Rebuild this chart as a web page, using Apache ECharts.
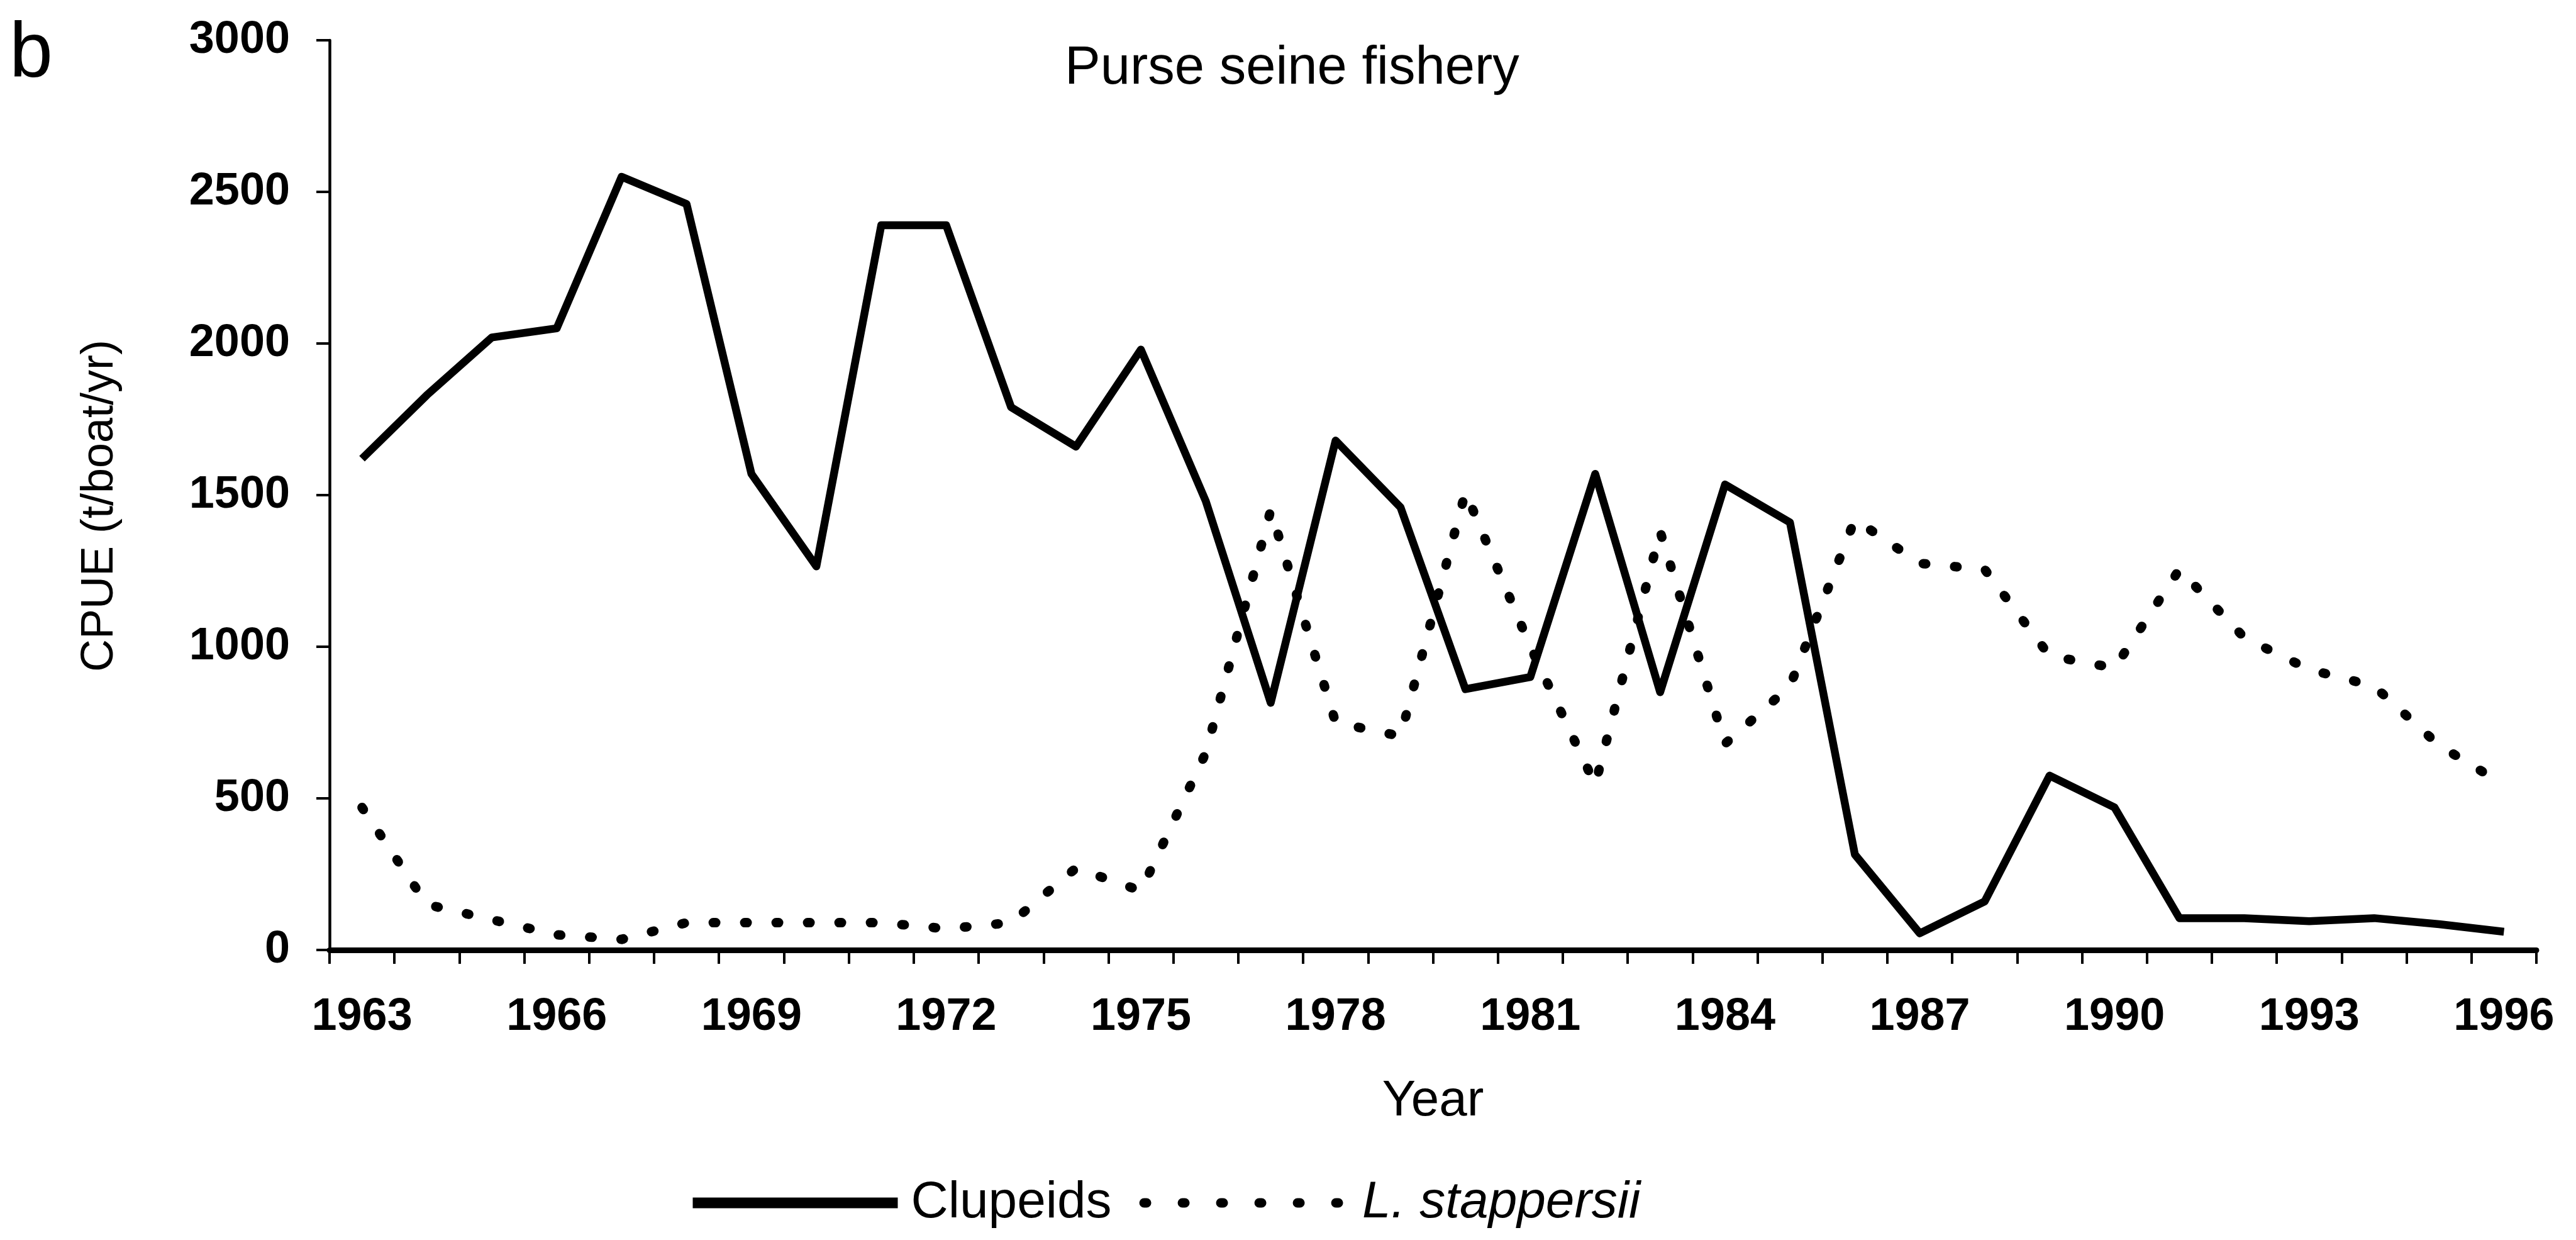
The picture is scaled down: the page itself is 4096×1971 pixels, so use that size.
<!DOCTYPE html>
<html>
<head>
<meta charset="utf-8">
<script src="https://cdn.jsdelivr.net/npm/echarts@6/dist/echarts.min.js"></script>
<style>html,body{margin:0;padding:0;background:#fff}#c{width:4096px;height:1971px}</style>
</head>
<body>
<div id="c"></div>
<script>
const years = ['1963','1964','1965','1966','1967','1968','1969','1970','1971','1972',
  '1973','1974','1975','1976','1977','1978','1979','1980','1981','1982',
  '1983','1984','1985','1986','1987','1988','1989','1990','1991','1992',
  '1993','1994','1995','1996'];
const clupeids = [1620,1830,2020,2050,2550,2460,1570,1265,2390,2390,
  1790,1660,1980,1480,815,1680,1460,860,900,1570,
  850,1535,1410,315,55,160,575,470,105,105,
  95,105,85,60];
const stappersii = [470,150,100,50,35,90,90,90,90,70,
  90,270,195,650,1450,750,705,1510,1000,545,
  1380,680,870,1420,1275,1255,970,930,1255,1030,
  925,870,675,545];
const panelLetter = 'b';
const chartTitle = 'Purse seine fishery';
const xName = 'Year';
const yName = 'CPUE (t/boat/yr)';

const FF = '"Liberation Sans", Arial, sans-serif';
const chart = echarts.init(document.getElementById('c'), null, {renderer: 'canvas'});
chart.setOption({
  backgroundColor: '#ffffff',
  animation: false,
  title: [
    {text: panelLetter, left: 15, top: 26, padding: 0,
     textStyle: {fontSize: 124, fontWeight: 'normal', color: '#000', fontFamily: FF}},
    {text: chartTitle, left: 1693, top: 67, padding: 0,
     textStyle: {fontSize: 85, fontWeight: 'normal', color: '#000', fontFamily: FF}}
  ],
  grid: {left: 524, right: 63, top: 64, bottom: 461, containLabel: false, outerBoundsMode: 'none'},
  legend: {
    left: 1093, top: 1871, padding: 0, orient: 'horizontal',
    itemWidth: 326, itemHeight: 20, itemGap: 44,
    itemStyle: {opacity: 0},
    textStyle: {fontSize: 82, color: '#000', fontFamily: FF, padding: [0, 0, 0, 16]},
    data: [
      {name: 'Clupeids', lineStyle: {width: 17, color: '#000'}},
      {name: 'L. stappersii', textStyle: {fontStyle: 'italic'},
       lineStyle: {width: 15, color: '#000', type: [4, 57], cap: 'round'}}
    ]
  },
  xAxis: {
    type: 'category', data: years, boundaryGap: true,
    name: xName, nameLocation: 'middle', nameGap: 201,
    nameTextStyle: {fontSize: 80, color: '#000', fontFamily: FF},
    axisLine: {show: true, lineStyle: {color: '#000', width: 9}},
    axisTick: {show: true, interval: 0, length: 22, inside: false, lineStyle: {color: '#000', width: 4}},
    axisLabel: {interval: 2, margin: 71, fontSize: 72, fontWeight: 'bold', color: '#000', fontFamily: FF},
    splitLine: {show: false}
  },
  yAxis: {
    type: 'value', min: 0, max: 3000, interval: 500,
    name: yName, nameLocation: 'middle', nameRotate: 90, nameGap: 329,
    nameTextStyle: {fontSize: 72, color: '#000', fontFamily: FF, padding: [0, 34, 0, 0]},
    axisLine: {show: true, lineStyle: {color: '#000', width: 4.5}},
    axisTick: {show: true, length: 21, inside: false, lineStyle: {color: '#000', width: 4}},
    axisLabel: {margin: 63, fontSize: 72, fontWeight: 'bold', color: '#000', fontFamily: FF,
      formatter: function (v) { return String(v); }},
    splitLine: {show: false}
  },
  series: [
    {name: 'Clupeids', type: 'line', data: clupeids, symbol: 'none', smooth: false,
     lineStyle: {color: '#000', width: 12.5, join: 'round'}, itemStyle: {color: '#000'}},
    {name: 'L. stappersii', type: 'line', data: stappersii, symbol: 'none', smooth: false,
     lineStyle: {color: '#000', width: 15, type: [4, 46], cap: 'round', join: 'round'}, itemStyle: {color: '#000'}}
  ]
});
</script>
</body>
</html>
